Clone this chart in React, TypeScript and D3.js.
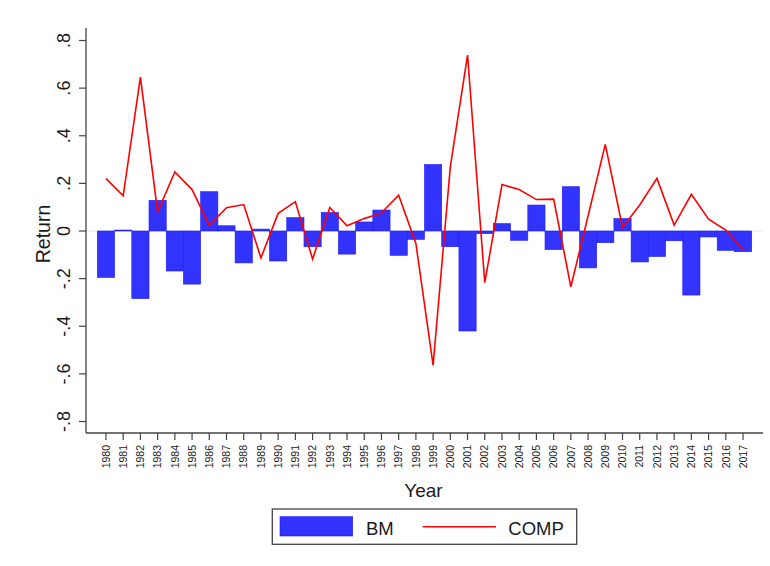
import React from "react";
import * as d3 from "d3";

const years: number[] = d3.range(1980, 2018);
const bm: number[] = [
  -0.195, 0.004, -0.284, 0.129, -0.168, -0.223, 0.165, 0.022, -0.134, 0.008,
  -0.126, 0.056, -0.066, 0.078, -0.097, 0.038, 0.088, -0.102, -0.035, 0.279,
  -0.066, -0.42, -0.011, 0.031, -0.039, 0.109, -0.078, 0.186, -0.155, -0.049,
  0.052, -0.13, -0.107, -0.041, -0.269, -0.025, -0.081, -0.087,
];
const comp: number[] = [
  0.22, 0.148, 0.646, 0.08, 0.248, 0.174, 0.024, 0.098, 0.111, -0.113,
  0.074, 0.123, -0.118, 0.099, 0.022, 0.052, 0.076, 0.15, -0.052, -0.564,
  0.27, 0.739, -0.217, 0.195, 0.174, 0.132, 0.134, -0.234, 0.063, 0.364,
  0.015, 0.109, 0.221, 0.025, 0.154, 0.05, 0.004, -0.077,
];
const yTicks: number[] = [0.8, 0.6, 0.4, 0.2, 0, -0.2, -0.4, -0.6, -0.8];
const yTickLabels: string[] = [".8", ".6", ".4", ".2", "0", "-.2", "-.4", "-.6", "-.8"];

const W = 770;
const H = 566;
const left = 86;
const right = 763;
const top = 28;
const bottom = 433;

export default function App() {
  const x = d3.scaleLinear().domain([1978.84, 2018.16]).range([left, right]);
  const y = d3.scaleLinear().domain([-0.8, 0.8]).range([421.5, 40.5]);
  const bw = x(1981) - x(1980);
  const line = d3
    .line<number>()
    .x((_, i) => x(years[i]))
    .y((d) => y(d));
  const axisColor = "#444";
  const textColor = "#1a1a1a";
  const font = "'Liberation Sans', Arial, sans-serif";

  return (
    <svg
      width={W}
      height={H}
      style={{ position: "absolute", left: 0, top: 0, background: "#fff" }}
      fontFamily={font}
    >
      <rect x={0} y={0} width={W} height={H} fill="#fff" />
      {/* zero line */}
      <line x1={left} x2={right} y1={y(0)} y2={y(0)} stroke="#e6eef6" strokeWidth={1} />
      {/* bars */}
      {bm.map((v, i) => (
        <rect
          key={"b" + i}
          x={x(years[i]) - bw / 2}
          y={Math.min(y(v), y(0))}
          width={bw}
          height={Math.max(Math.abs(y(v) - y(0)), 0.8)}
          fill="#3333ff"
          stroke="#1a1aff"
          strokeWidth={0.6}
        />
      ))}
      {/* line */}
      <path d={line(comp) || ""} fill="none" stroke="#ff0000" strokeWidth={1.6} strokeLinejoin="miter" />
      {/* axes */}
      <line x1={left} x2={left} y1={top} y2={bottom} stroke={axisColor} strokeWidth={1.3} />
      <line x1={left} x2={right} y1={bottom} y2={bottom} stroke={axisColor} strokeWidth={1.3} />
      {yTicks.map((t, i) => (
        <g key={"yt" + i}>
          <line x1={left - 7} x2={left} y1={y(t)} y2={y(t)} stroke={axisColor} strokeWidth={1.2} />
          <text
            transform={`translate(${69.5},${y(t)}) rotate(-90)`}
            textAnchor="middle"
            fontSize={18}
            fill={textColor}
          >
            {yTickLabels[i]}
          </text>
        </g>
      ))}
      {years.map((yr) => (
        <g key={"xt" + yr}>
          <line x1={x(yr)} x2={x(yr)} y1={bottom} y2={bottom + 7} stroke={axisColor} strokeWidth={1.2} />
          <text
            transform={`translate(${x(yr) + 3.7},${bottom + 12}) rotate(-90)`}
            textAnchor="end"
            fontSize={10.5}
            fill={textColor}
          >
            {yr}
          </text>
        </g>
      ))}
      <text
        transform={`translate(${50},${234}) rotate(-90)`}
        textAnchor="middle"
        fontSize={19.5}
        fill={textColor}
      >
        Return
      </text>
      <text x={423.5} y={496.7} textAnchor="middle" fontSize={19} fill={textColor}>
        Year
      </text>
      {/* legend */}
      <rect x={272.3} y={509} width={304.4} height={35.3} fill="#fff" stroke={axisColor} strokeWidth={1.3} />
      <rect x={280} y={516.7} width={72.7} height={19.3} fill="#3333ff" stroke="#1a1aff" strokeWidth={0.6} />
      <text x={366} y={535} fontSize={18.5} fill={textColor}>
        BM
      </text>
      <line x1={422.7} x2={496} y1={526.7} y2={526.7} stroke="#ff0000" strokeWidth={1.6} />
      <text x={508.3} y={535} fontSize={18.5} fill={textColor}>
        COMP
      </text>
    </svg>
  );
}
